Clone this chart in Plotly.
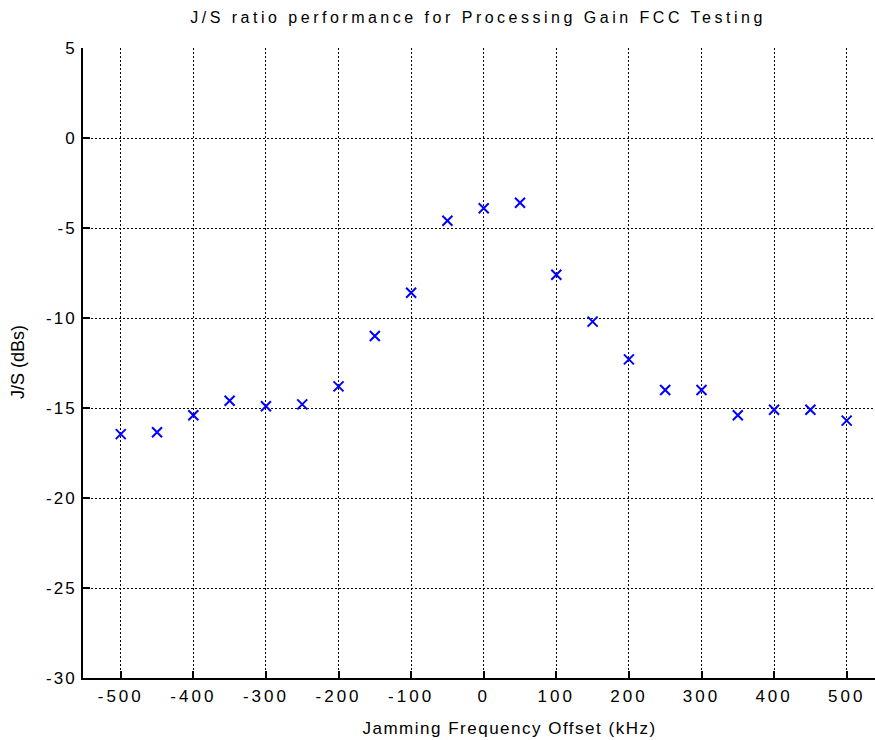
import plotly.graph_objects as go

offsets_khz = [-500, -450, -400, -350, -300, -250, -200, -150, -100, -50, 0,
               50, 100, 150, 200, 250, 300, 350, 400, 450, 500]
js_ratio_db = [-16.45, -16.35, -15.4, -14.6, -14.9, -14.8, -13.8, -11.0, -8.6, -4.6, -3.9,
               -3.6, -7.6, -10.2, -12.3, -14.0, -14.0, -15.4, -15.1, -15.1, -15.7]
x_ticks = [-500, -400, -300, -200, -100, 0, 100, 200, 300, 400, 500]
y_ticks = [5, 0, -5, -10, -15, -20, -25, -30]

FONT = "Liberation Sans, Arial, Helvetica, sans-serif"
W, H = 875, 740
L, R, T, B = 83, 0, 48, 62
PW, PH = W - L - R, H - T - B

fig = go.Figure()
fig.add_trace(go.Scatter(
    x=offsets_khz, y=js_ratio_db, mode="markers",
    marker=dict(symbol="x-thin", size=10, color="#0000ff",
                line=dict(width=2, color="#0000ff")),
    showlegend=False,
))

fig.update_layout(
    width=W, height=H,
    margin=dict(l=L, r=R, t=T, b=B, autoexpand=False),
    paper_bgcolor="white", plot_bgcolor="white",
    font=dict(family=FONT, color="black"),
    title=dict(text="J/S ratio performance for Processing Gain FCC Testing",
               x=(478 - L) / PW, xanchor="center", xref="paper",
               y=1 - 17.5 / H, yanchor="middle", yref="container",
               font=dict(size=16, family=FONT, color="black")),
    annotations=[
        dict(text="Jamming Frequency Offset (kHz)", xref="paper", yref="paper",
             x=(509 - L) / PW, y=-(728 - (H - B)) / PH, xanchor="center", yanchor="middle",
             showarrow=False, font=dict(size=17, family=FONT, color="black")),
        dict(text="J/S (dBs)", xref="paper", yref="paper", textangle=-90,
             x=(18 - L) / PW, y=(H - B - 362) / PH, xanchor="center", yanchor="middle",
             showarrow=False, font=dict(size=18, family=FONT, color="black")),
    ],
)

fig.update_xaxes(
    range=[-552, 539], tickvals=x_ticks, ticktext=[str(v) for v in x_ticks],
    automargin=False,
    showline=True, linecolor="black", linewidth=2, mirror=False,
    ticks="inside", ticklen=7, tickwidth=2, tickcolor="black",
    tickfont=dict(size=17, family=FONT, color="black"),
    ticklabelstandoff=2,
    showgrid=True, gridcolor="black", gridwidth=1, griddash="2px,2px",
    zeroline=False,
)
fig.update_yaxes(
    range=[-30, 5], tickvals=y_ticks, ticktext=[str(v) for v in y_ticks],
    automargin=False,
    showline=True, linecolor="black", linewidth=2, mirror=False,
    ticks="inside", ticklen=7, tickwidth=2, tickcolor="black",
    tickfont=dict(size=17, family=FONT, color="black"),
    ticklabelstandoff=1,
    showgrid=True, gridcolor="black", gridwidth=1, griddash="2px,2px",
    zeroline=False,
)

page_css = (
    "html,body{margin:0;padding:0;overflow:hidden}"
    " .gtitle{letter-spacing:3.5px}"
    " g.xtick text{letter-spacing:3px}"
    " g.ytick text{letter-spacing:2px}"
    " g.annotation[data-index='0'] text{letter-spacing:1.5px}"
)
post_js = (
    "var s=document.createElement('style');"
    "s.textContent=\"" + page_css + "\";"
    "document.head.appendChild(s);"
)

fig.write_html("out.html", post_script=post_js,
               config={"displayModeBar": False})
